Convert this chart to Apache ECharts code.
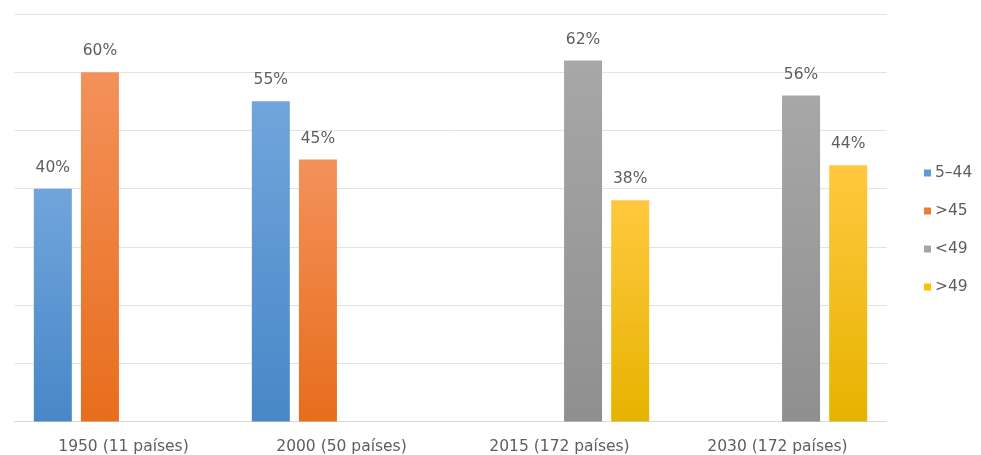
<!DOCTYPE html>
<html>
<head>
<meta charset="utf-8">
<script src="https://cdn.jsdelivr.net/npm/echarts@6/dist/echarts.min.js"></script>
<style>
html,body{margin:0;padding:0;background:#fff;}
#c{width:981px;height:455px;}
</style>
</head>
<body>
<div id="c"></div>
<script>
var categories = ['1950 (11 países)', '2000 (50 países)', '2015 (172 países)', '2030 (172 países)'];
var seriesNames = ['5–44', '>45', '<49', '>49'];
var s1 = [40, 55, null, null];
var s2 = [60, 45, null, null];
var s3 = [null, null, 62, 56];
var s4 = [null, null, 38, 44];
var values = [s1, s2, s3, s4];
var topColors = ['#70a5db', '#f3915a', '#a7a7a7', '#ffc83f'];
var bottomColors = ['#4887c8', '#e86d1c', '#8f8f8f', '#e6b300'];
var legendColors = ['#5b9bd5', '#ed7d31', '#a5a5a5', '#ffc000'];

var chart = echarts.init(document.getElementById('c'));
var font = '"DejaVu Sans", sans-serif';
var series = seriesNames.map(function (n, i) {
  return {
    name: n,
    type: 'bar',
    data: values[i],
    barWidth: 38,
    barGap: '24%',
    color: legendColors[i],
    itemStyle: {
      color: new echarts.graphic.LinearGradient(0, 0, 0, 1, [
        {offset: 0, color: topColors[i]},
        {offset: 1, color: bottomColors[i]}
      ])
    },
    label: {
      show: true,
      position: 'top',
      distance: 13,
      color: '#5e5e5e',
      fontFamily: font,
      fontSize: 15.5,
      formatter: function (p) { return p.value + '%'; }
    }
  };
});

chart.setOption({
  animation: false,
  backgroundColor: '#fff',
  grid: {left: 14.5, right: 94.5, top: 14, bottom: 33.5, containLabel: false},
  legend: {
    orient: 'vertical',
    left: 924,
    top: 165,
    padding: 0,
    itemWidth: 7,
    itemHeight: 7,
    itemGap: 22,
    icon: 'rect',
    textStyle: {color: '#5e5e5e', fontFamily: font, fontSize: 15.5, padding: [0,0,0,-1]},
    data: seriesNames.map(function (n, i) { return {name: n, itemStyle: {color: legendColors[i]}}; })
  },
  xAxis: {
    type: 'category',
    data: categories,
    axisLine: {show: true, lineStyle: {color: '#d9d9d9'}},
    axisTick: {show: false},
    axisLabel: {color: '#5e5e5e', fontFamily: font, fontSize: 15.5, margin: 17}
  },
  yAxis: {
    type: 'value',
    min: 0,
    max: 70,
    interval: 10,
    axisLabel: {show: false},
    axisLine: {show: false},
    axisTick: {show: false},
    splitLine: {lineStyle: {color: '#e3e3e3'}}
  },
  series: series
});
</script>
</body>
</html>
